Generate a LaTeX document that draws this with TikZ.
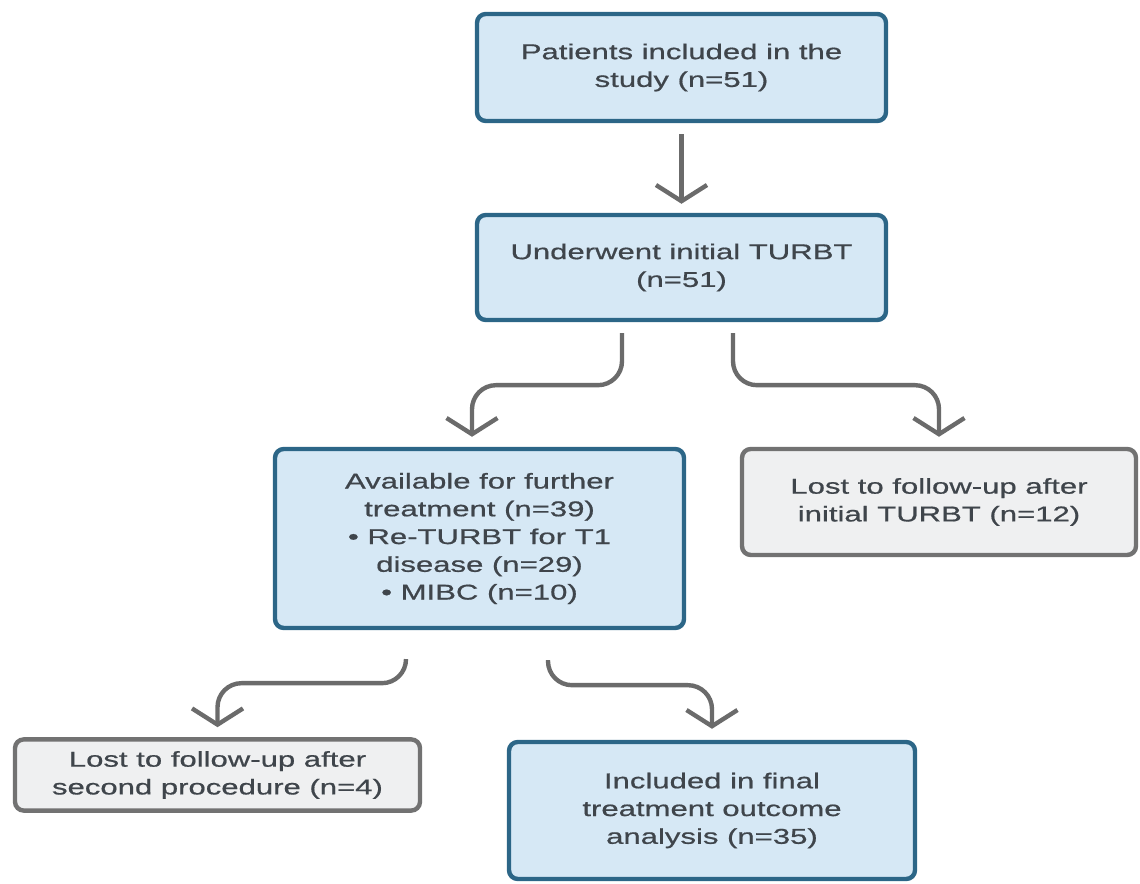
\documentclass[tikz,border=0pt]{standalone}
\usepackage{fontspec}
\setmainfont{Liberation Sans}[FakeStretch=1.45,FakeBold=0.7]
\usepackage{tikz}
\usetikzlibrary{arrows.meta,calc}
\definecolor{boxblue}{HTML}{D6E8F5}
\definecolor{edgeblue}{HTML}{2C6687}
\definecolor{boxgray}{HTML}{EFF0F1}
\definecolor{edgegray}{HTML}{727272}
\definecolor{arrowgray}{HTML}{6B6B6B}
\definecolor{textgray}{HTML}{3F454B}
\tikzstyle{bluebox} = [rectangle, rounded corners=2.5pt, line width=1.25pt,
draw=edgeblue, fill=boxblue, text=textgray, align=center,
font=\fontsize{6.1}{7.9}\selectfont]
\tikzstyle{graybox} = [bluebox, draw=edgegray, fill=boxgray]
\tikzstyle{arrow} = [line width=1.25pt, draw=arrowgray, rounded corners=0.24cm,
-{Straight Barb[length=4.6pt,width=14.5pt]}]

\begin{document}
\begin{tikzpicture}
            \useasboundingbox (0,0) rectangle (11.4,8.84);
            % boxes
            \node[bluebox, minimum width=4.09cm, minimum height=1.07cm] (incl) at (6.815,8.165)
            {Patients included in the\\study (n=51)};
            \node[bluebox, minimum width=4.09cm, minimum height=1.05cm] (turbt) at (6.815,6.165)
            {Underwent initial TURBT\\(n=51)};
            \node[bluebox, minimum width=4.09cm, minimum height=1.79cm] (avail) at (4.795,3.455)
            {Available for further\\treatment (n=39)\\• Re-TURBT for T1\\disease (n=29)\\• MIBC (n=10)};
            \node[graybox, minimum width=3.94cm, minimum height=1.06cm] (lostA) at (9.39,3.82)
            {Lost to follow-up after\\initial TURBT (n=12)};
            \node[graybox, minimum width=4.05cm, minimum height=0.70cm] (lostB) at (2.175,1.09)
            {Lost to follow-up after\\second procedure (n=4)};
            \node[bluebox, minimum width=4.06cm, minimum height=1.37cm] (final) at (7.12,0.735)
            {Included in final\\treatment outcome\\analysis (n=35)};
            % connectors
            \draw[arrow] ($(incl.south)+(0,-0.11)$) -- ($(turbt.north)+(0,0.09)$);
            \draw[arrow] ($(turbt.south)+(-0.595,-0.11)$) -- ++(0,-0.52) -| ($(avail.north)+(-0.075,0.10)$);
            \draw[arrow] ($(turbt.south)+(0.515,-0.11)$) -- ++(0,-0.52) -| ($(lostA.north)+(0,0.10)$);
            \draw[arrow] ($(avail.south)+(-0.735,-0.30)$) -- ++(0,-0.23) -| ($(lostB.north)+(0,0.10)$);
            \draw[arrow] ($(avail.south)+(0.685,-0.30)$) -- ++(0,-0.25) -| ($(final.north)+(0,0.11)$);
        \end{tikzpicture}
\end{document}
